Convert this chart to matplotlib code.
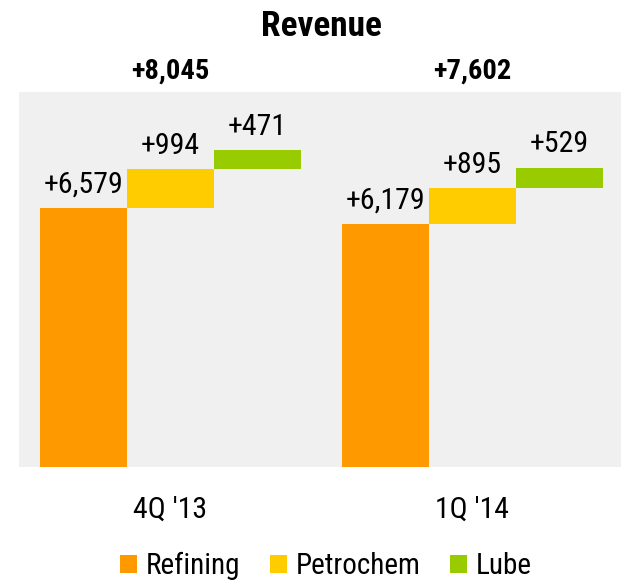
import matplotlib.pyplot as plt
from matplotlib import font_manager

# data
periods = ["4Q '13", "1Q '14"]
segments = ["Refining", "Petrochem", "Lube"]
values = {
    "Refining": [6579, 6179],
    "Petrochem": [994, 895],
    "Lube": [471, 529],
}
totals = [8045, 7602]
colors = ["#ff9900", "#ffcc00", "#99cc00"]

# narrow font like the original, with fallbacks
names = {f.name for f in font_manager.fontManager.ttflist}
fam = "Liberation Sans"
for cand in ["Roboto Condensed", "Archivo Narrow", "PT Sans Narrow", "Liberation Sans Narrow"]:
    if cand in names:
        fam = cand
        break
plt.rcParams["font.family"] = [fam, "DejaVu Sans"]

fig = plt.figure(figsize=(6.21, 5.83), dpi=100)
ax = fig.add_axes([19 / 621, 1 - 467 / 583, 602 / 621, (467 - 92) / 583])
ax.set_facecolor("#f0f0f0")

group_step = 3.47
for g, period in enumerate(periods):
    base = 0
    x0 = g * group_step
    for j, seg in enumerate(segments):
        v = values[seg][g]
        ax.bar(x0 + j, v, width=1, bottom=base, align="edge", color=colors[j],
               label=seg if g == 0 else None)
        ax.annotate(f"+{v:,}", (x0 + j + 0.5, base + v), xytext=(0, 11),
                    textcoords="offset points", ha="center", va="baseline",
                    fontsize=21.5)
        base += v
    ax.annotate(f"+{totals[g]:,}", (x0 + 1.5, 1), xycoords=("data", "axes fraction"),
                xytext=(0, 9.5), textcoords="offset points", ha="center",
                va="baseline", fontsize=20.5, fontweight="semibold",
                annotation_clip=False)
    ax.annotate(period, (x0 + 1.5, 0), xycoords=("data", "axes fraction"),
                xytext=(0, -36.5), textcoords="offset points", ha="center",
                va="baseline", fontsize=21.5, annotation_clip=False)

ax.set_xlim(-0.241, 6.68)
ax.set_ylim(0, 9525)
ax.set_xticks([])
ax.set_yticks([])
for s in ax.spines.values():
    s.set_visible(False)

fig.text(321 / 621, 1 - 36 / 583, "Revenue", ha="center", va="baseline", fontsize=25.5,
         fontweight="semibold")

fig.legend(loc="center", bbox_to_anchor=(326 / 621, 1 - 566 / 583), ncol=3,
           frameon=False, fontsize=21, handlelength=0.6, handleheight=0.6,
           handletextpad=0.3, columnspacing=1.0, borderpad=0)

fig.savefig("out.png", dpi=100)
